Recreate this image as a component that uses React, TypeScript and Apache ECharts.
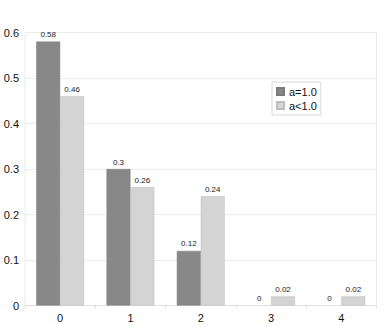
import React, { useEffect, useRef } from "react";
import * as echarts from "echarts";

const categories = ["0", "1", "2", "3", "4"];
const seriesNames = ["a=1.0", "a<1.0"];
const valuesA = [0.58, 0.3, 0.12, 0, 0];
const valuesB = [0.46, 0.26, 0.24, 0.02, 0.02];
const yTicks = { min: 0, max: 0.6, interval: 0.1 };

export default function App() {
  const ref = useRef<HTMLDivElement>(null);
  useEffect(() => {
    document.body.style.margin = "0";
    const chart = echarts.init(ref.current!, null, { renderer: "svg" });
    const font = "Liberation Sans, Arial, sans-serif";
    const label = {
      show: true,
      position: "top",
      distance: 3,
      fontSize: 8,
      color: "#222",
      fontFamily: font,
    };
    const toData = (arr: number[]) =>
      arr.map((v) => (v === 0 ? { value: v, itemStyle: { borderWidth: 0 } } : v));
    chart.setOption({
      animation: false,
      backgroundColor: "#fff",
      grid: {
        left: 25,
        right: 15.5,
        top: 32.5,
        bottom: 21.5,
        show: true,
        borderColor: "#ececec",
        borderWidth: 1,
      },
      legend: {
        orient: "vertical",
        left: 272,
        top: 82,
        itemWidth: 7,
        itemHeight: 7,
        itemGap: 1,
        padding: [3, 4, 3, 4],
        borderColor: "#d8d8d8",
        borderWidth: 1,
        textStyle: { fontSize: 11, color: "#111", fontFamily: font, lineHeight: 13 },
        data: seriesNames.map((n) => ({ name: n, icon: "rect" })),
      },
      xAxis: {
        type: "category",
        data: categories,
        axisLine: { show: true, lineStyle: { color: "#e0e0e0" } },
        axisTick: { show: true, length: 3, lineStyle: { color: "#e0e0e0" } },
        axisLabel: { fontSize: 11, color: "#111", fontFamily: font, margin: 7 },
      },
      yAxis: {
        type: "value",
        min: yTicks.min,
        max: yTicks.max,
        interval: yTicks.interval,
        axisLine: { show: false },
        axisTick: { show: false },
        splitLine: { lineStyle: { color: "#ececec" } },
        axisLabel: {
          fontSize: 11,
          color: "#111",
          fontFamily: font,
          margin: 6,
          formatter: (v: number) => (v === 0 ? "0" : String(Math.round(v * 10) / 10)),
        },
      },
      series: [
        {
          name: seriesNames[0],
          type: "bar",
          data: toData(valuesA),
          barGap: "0%",
          barCategoryGap: "32%",
          itemStyle: { color: "#888888", borderColor: "#7a7a7a", borderWidth: 0.5 },
          label,
        },
        {
          name: seriesNames[1],
          type: "bar",
          data: toData(valuesB),
          itemStyle: { color: "#d4d4d4", borderColor: "#bdbdbd", borderWidth: 0.5 },
          label,
        },
      ],
    });
    return () => chart.dispose();
  }, []);
  return <div ref={ref} style={{ width: 392, height: 327 }} />;
}
